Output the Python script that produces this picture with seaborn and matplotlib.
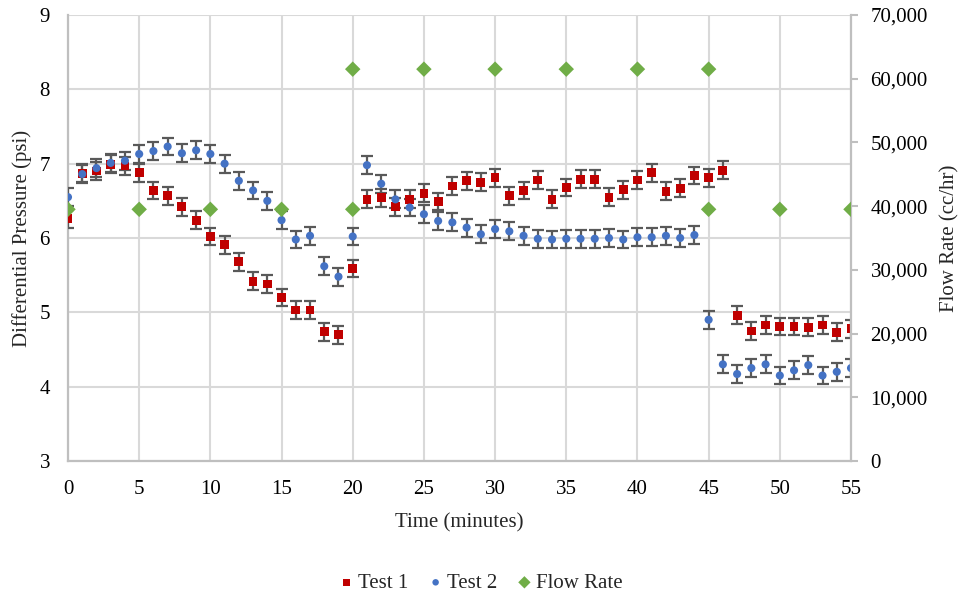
import numpy as np
import pandas as pd
import matplotlib
matplotlib.use("Agg")
import matplotlib.pyplot as plt
from matplotlib.ticker import FuncFormatter, MultipleLocator
import seaborn as sns

# Differential pressure readings, one per minute
minutes = list(range(0, 56))
test1_psi = [6.26, 6.87, 6.90, 6.99, 6.97, 6.88, 6.64, 6.57, 6.42, 6.24,
             6.02, 5.91, 5.68, 5.42, 5.38, 5.20, 5.03, 5.03, 4.74, 4.70,
             5.59, 6.52, 6.54, 6.42, 6.52, 6.60, 6.49, 6.70, 6.77, 6.75,
             6.81, 6.57, 6.64, 6.78, 6.52, 6.68, 6.79, 6.79, 6.55, 6.65,
             6.78, 6.88, 6.63, 6.67, 6.84, 6.81, 6.91, 4.96, 4.75, 4.83,
             4.81, 4.81, 4.80, 4.83, 4.73, 4.78]
test2_psi = [6.55, 6.86, 6.94, 7.01, 7.04, 7.13, 7.17, 7.23, 7.14, 7.18,
             7.13, 7.00, 6.77, 6.64, 6.50, 6.24, 5.98, 6.03, 5.62, 5.48,
             6.02, 6.98, 6.73, 6.52, 6.41, 6.32, 6.23, 6.21, 6.14, 6.05,
             6.12, 6.09, 6.03, 5.99, 5.98, 5.99, 5.99, 5.99, 6.00, 5.98,
             6.01, 6.01, 6.03, 6.00, 6.04, 4.90, 4.30, 4.17, 4.25, 4.30,
             4.15, 4.22, 4.29, 4.15, 4.20, 4.25]
psi_error = 0.12

# Flow rate set points (cc/hr)
flow_minutes = [0, 5, 10, 15, 20, 20, 25, 30, 35, 40, 45, 45, 50, 55]
flow_rate = [39500, 39500, 39500, 39500, 39500, 61500, 61500, 61500,
             61500, 61500, 61500, 39500, 39500, 39500]

pressure = pd.DataFrame({"Time": minutes, "Test 1": test1_psi, "Test 2": test2_psi})
flow = pd.DataFrame({"Time": flow_minutes, "Flow Rate": flow_rate})

sns.set_theme(style="white")
plt.rcParams["font.family"] = ["Liberation Serif", "DejaVu Serif"]

fig = plt.figure(figsize=(9.61, 5.97), dpi=100)
ax = fig.add_axes([68 / 961, 1 - 461 / 597, (851 - 68) / 961, (461 - 15) / 597])
ax2 = ax.twinx()

grid_c = "#d9d9d9"
spine_c = "#bfbfbf"
err_c = "#595959"
fs = 15

for col, color, marker, size in [("Test 1", "#c00000", "s", 40),
                                 ("Test 2", "#4472c4", "o", 34)]:
    ax.errorbar(pressure["Time"], pressure[col], yerr=psi_error, fmt="none",
                ecolor=err_c, elinewidth=1.6, capsize=4.5, capthick=1.6, zorder=3)
    sns.scatterplot(data=pressure, x="Time", y=col, ax=ax, color=color,
                    marker=marker, s=size, edgecolor="none", label=col,
                    zorder=4, legend=False)

sns.scatterplot(data=flow, x="Time", y="Flow Rate", ax=ax2, color="#70ad47",
                marker="D", s=62, edgecolor="none", label="Flow Rate",
                zorder=5, legend=False)

ax.set_xlim(0, 55)
ax.set_ylim(3, 9)
ax2.set_ylim(0, 70000)
ax.xaxis.set_major_locator(MultipleLocator(5))
ax.yaxis.set_major_locator(MultipleLocator(1))
ax2.yaxis.set_major_locator(MultipleLocator(10000))
ax2.yaxis.set_major_formatter(FuncFormatter(lambda v, p: f"{int(v):,}"))

ax.grid(True, color=grid_c, linewidth=1.5)
ax.set_axisbelow(True)
ax2.grid(False)

ax.spines["top"].set_visible(False)
ax2.spines["top"].set_visible(False)
ax2.spines["left"].set_visible(False)
ax2.spines["bottom"].set_visible(False)
ax.spines["right"].set_visible(False)
for sp in [ax.spines["left"], ax.spines["bottom"], ax2.spines["right"]]:
    sp.set_color(spine_c)
    sp.set_linewidth(1.6)

ax.tick_params(axis="x", length=0, labelsize=fs, colors="black", pad=14)
ax.tick_params(axis="y", length=0, labelsize=fs, colors="black", pad=13)
ax2.tick_params(axis="y", length=5, width=1.5, color=spine_c, labelsize=fs,
                labelcolor="black", pad=9, direction="out")

ax.set_xlabel("Time (minutes)", fontsize=fs, labelpad=10)
ax.set_ylabel("Differential Pressure (psi)", fontsize=fs, labelpad=5)
ax2.set_ylabel("Flow Rate (cc/hr)", fontsize=fs, labelpad=9)

h1, l1 = ax.get_legend_handles_labels()
h2, l2 = ax2.get_legend_handles_labels()
fig.legend(h1 + h2, l1 + l2, loc="center", bbox_to_anchor=(0.5, 1 - 583 / 597),
           ncol=3, frameon=False, fontsize=fs, handlelength=0.8,
           handletextpad=0.15, columnspacing=0.9, markerscale=0.8)

fig.savefig("out.png", dpi=100)
